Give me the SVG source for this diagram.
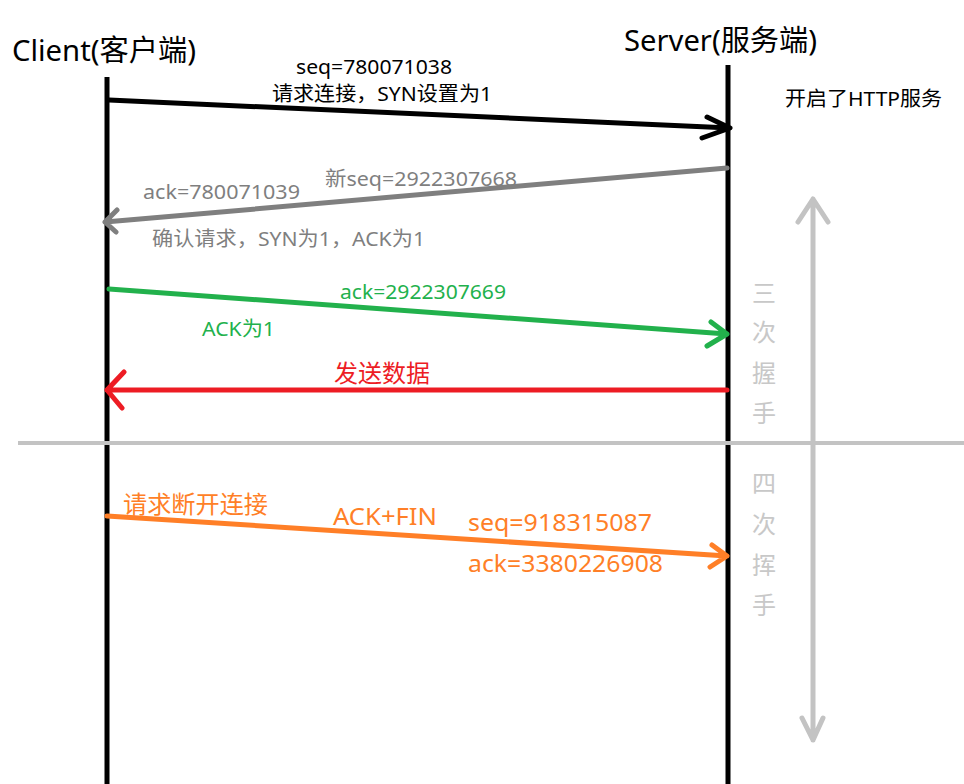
<svg xmlns="http://www.w3.org/2000/svg" width="964" height="784" viewBox="0 0 964 784">
<style>
text{font-family:"Noto Sans","Noto Sans CJK SC",sans-serif;}
.life{stroke:#000;stroke-width:5;fill:none}
.ln{fill:none;stroke-width:5;stroke-linecap:round;stroke-linejoin:round}
.vt{font-size:24px;fill:#c8c8c8;text-anchor:middle}
</style>
<rect width="964" height="784" fill="#fff"/>
<g id="client">
<line class="life" x1="107" y1="77" x2="107" y2="784"/>
<text x="12" y="61" font-size="29" fill="#000" textLength="184" lengthAdjust="spacingAndGlyphs">Client(客户端)</text>
</g>
<g id="server">
<line class="life" x1="728" y1="65" x2="728" y2="784"/>
<text x="624" y="51" font-size="29" fill="#000" textLength="193" lengthAdjust="spacingAndGlyphs">Server(服务端)</text>
<text x="785" y="106" font-size="20" fill="#000" textLength="157" lengthAdjust="spacingAndGlyphs">开启了HTTP服务</text>
</g>
<g id="divider">
<line x1="18" y1="443" x2="964" y2="443" stroke="#c3c3c3" stroke-width="4"/>
<path class="ln" d="M813 199 V740 M798 222 L813 199 L828 222 M802 718 L813 740 L823 718" stroke="#c3c3c3" stroke-width="4"/>
<text class="vt" x="764" y="302">三</text>
<text class="vt" x="764" y="341">次</text>
<text class="vt" x="764" y="382">握</text>
<text class="vt" x="764" y="422">手</text>
<text class="vt" x="764" y="492">四</text>
<text class="vt" x="764" y="533">次</text>
<text class="vt" x="764" y="574">挥</text>
<text class="vt" x="764" y="614">手</text>
</g>
<g id="connectors">
<path class="ln" stroke="#000" d="M109 100 L730 128 M707 117 L730 128 L702 138"/>
<path class="ln" stroke="#7f7f7f" d="M727 168 L105 222 M117 210 L105 222 L116 232"/>
<path class="ln" stroke="#22b14c" d="M109 289 L727 334 M711 322 L727 334 L707 346"/>
<path class="ln" stroke="#ed1c24" d="M727 390 L107 390 M124 372 L107 390 L122 408"/>
<path class="ln" stroke="#ff7f27" d="M107 516 L727 556 M712 545 L727 556 L710 567"/>
</g>
<g id="labels">
<text x="296" y="74" font-size="20" fill="#000" textLength="156" lengthAdjust="spacingAndGlyphs">seq=780071038</text>
<text x="272" y="101" font-size="20" fill="#000" textLength="220" lengthAdjust="spacingAndGlyphs">请求连接，SYN设置为1</text>
<text x="325" y="186" font-size="20" fill="#7f7f7f" textLength="192" lengthAdjust="spacingAndGlyphs">新seq=2922307668</text>
<text x="143" y="199" font-size="20" fill="#7f7f7f" textLength="157" lengthAdjust="spacingAndGlyphs">ack=780071039</text>
<text x="152" y="246" font-size="20" fill="#7f7f7f" textLength="273" lengthAdjust="spacingAndGlyphs">确认请求，SYN为1，ACK为1</text>
<text x="340" y="299" font-size="20" fill="#22b14c" textLength="166" lengthAdjust="spacingAndGlyphs">ack=2922307669</text>
<text x="202" y="336" font-size="20" fill="#22b14c" textLength="73" lengthAdjust="spacingAndGlyphs">ACK为1</text>
<text x="334" y="382" font-size="24" fill="#ed1c24" textLength="96" lengthAdjust="spacingAndGlyphs">发送数据</text>
<text x="123" y="513" font-size="24" fill="#ff7f27" textLength="145" lengthAdjust="spacingAndGlyphs">请求断开连接</text>
<text x="333" y="525" font-size="23" fill="#ff7f27" textLength="104" lengthAdjust="spacingAndGlyphs">ACK+FIN</text>
<text x="468" y="531" font-size="23" fill="#ff7f27" textLength="184" lengthAdjust="spacingAndGlyphs">seq=918315087</text>
<text x="468" y="572" font-size="23" fill="#ff7f27" textLength="195" lengthAdjust="spacingAndGlyphs">ack=3380226908</text>
</g>
</svg>
